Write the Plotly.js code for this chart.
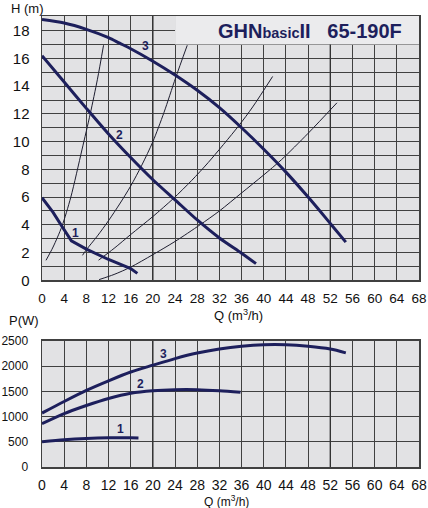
<!DOCTYPE html>
<html><head><meta charset="utf-8">
<script src="https://cdn.plot.ly/plotly-3.0.1.min.js"></script>
<style>html,body{margin:0;padding:0;background:#fff}#chart{width:428px;height:508px}</style>
</head><body><div id="chart"></div>
<script>
// ---- Data ----
const qTicks = [0,4,8,12,16,20,24,28,32,36,40,44,48,52,56,60,64,68];
const hTicks = [0,2,4,6,8,10,12,14,16,18];
const hMinor = [1,3,5,7,9,11,13,15,17];
const pTicks = [0,500,1000,1500,2000,2500];

// Head curves H(Q), speeds 1..3
const h1Q = [0,2,3.5,5.3,8,12,16,17.2];
const h1H = [5.95,4.9,3.95,2.85,2.25,1.5,0.85,0.5];
const h2Q = [0,4,8,12,16,20,24,28,32,36,38.6];
const h2H = [16.2,14.3,12.4,10.55,8.85,7.25,5.8,4.35,3.05,1.95,1.2];
const h3Q = [0,4,8,12,14,16,20,24,28,32,36,40,44,48,52,54.8];
const h3H = [18.8,18.55,18.1,17.5,17.1,16.7,15.8,14.8,13.7,12.45,11.0,9.45,7.8,6.0,4.1,2.75];

// System curves (thin)
const sAQ = [0.72,2,3.6,5.2,7.2,8.7,10,11.1];
const sAH = [1.44,2.4,3.9,6.0,9.4,12.0,14.5,16.95];
const sBQ = [7.3,8,10,12,14,16,18,20,22,24.1,26.2];
const sBH = [1.8,2.2,3.2,4.3,5.5,6.8,8.3,10.0,12.1,14.6,16.95];
const sCQ = [10.2,13,16,20,23.7,27,30,35.4,38,41.6];
const sCH = [1.45,2.3,3.3,4.6,5.9,7.2,8.5,11.1,12.5,14.7];
const sDQ = [10.3,13,16,20,24,28.5,32,36,40,43.2,48,53.2];
const sDH = [0.05,0.42,0.95,1.85,2.8,4.0,5.0,6.3,7.6,8.7,10.6,12.8];

// Power curves P(Q)
const p1Q = [0,4,8,12,16,17.4];
const p1P = [500,540,565,578,578,575];
const p2Q = [0,4,8,12,16,20,24,28,32,35.8];
const p2P = [860,1060,1220,1360,1465,1515,1535,1535,1515,1485];
const p3Q = [0,4,8,12,16,20,24,28,32,36,40,44,48,52,54.8];
const p3P = [1070,1300,1520,1710,1885,2020,2150,2260,2340,2395,2425,2425,2395,2340,2265];

const curveLabels = ['1','2','3'];
const chartTitle = "<b>GHN<span style='font-size:14.5px'>basic</span>II&nbsp;&nbsp;&nbsp;65-190F</b>";
const strongQ = [20,52];

// ---- Styles ----
const NAVY = '#1d1f5c';
const GRID = '#404040';
const FONT = 'Liberation Sans, Arial, sans-serif';

function thick(x, y, xa, ya){ return {x:x, y:y, xaxis:xa, yaxis:ya, mode:'lines', line:{color:NAVY, width:3, shape:'spline', smoothing:0.8}, hoverinfo:'skip', showlegend:false}; }
function thin(x, y){ return {x:x, y:y, xaxis:'x', yaxis:'y', mode:'lines', line:{color:'#1e1e30', width:1, shape:'spline', smoothing:0.8}, hoverinfo:'skip', showlegend:false}; }

const data = [
  thin(sAQ,sAH), thin(sBQ,sBH), thin(sCQ,sCH), thin(sDQ,sDH),
  {x:h1Q, y:h1H, xaxis:'x', yaxis:'y', mode:'lines', line:{color:NAVY,width:3}, hoverinfo:'skip', showlegend:false},
  thick(h2Q,h2H,'x','y'), thick(h3Q,h3H,'x','y'),
  thick(p1Q,p1P,'x2','y2'), thick(p2Q,p2P,'x2','y2'), thick(p3Q,p3P,'x2','y2')
];

const xBase = {
  range:[0,68], tickvals:qTicks, ticktext:qTicks.map(String),
  showgrid:true, gridcolor:GRID, gridwidth:1,
  showline:true, linecolor:GRID, linewidth:1.5, mirror:true,
  ticks:'outside', ticklen:5, tickcolor:'rgba(0,0,0,0)',
  tickfont:{family:FONT, size:13.5, color:'#111'}, zeroline:false, fixedrange:true
};

const shapes = [
  {type:'rect', xref:'x', yref:'y', x0:24, x1:68, y0:17, y1:19.06, fillcolor:'#ebebed', line:{width:0}, layer:'between'}
];
strongQ.forEach(function(q){
  shapes.push({type:'line', xref:'x', yref:'y', x0:q, x1:q, y0:0, y1:(q>24?17:19.06), line:{color:'#333', width:1.3}, layer:'between'});
  shapes.push({type:'line', xref:'x2', yref:'y2', x0:q, x1:q, y0:0, y1:2500, line:{color:'#333', width:1.3}, layer:'between'});
});

const layout = {
  width:428, height:508,
  margin:{l:42, r:9, t:16, b:41},
  paper_bgcolor:'#ffffff', plot_bgcolor:'#e2e2e4',
  font:{family:FONT, color:'#111'},
  xaxis: Object.assign({}, xBase, {anchor:'y'}),
  yaxis: {
    domain:[0.414,1], range:[0,19.06], anchor:'x',
    tickvals:hTicks, ticktext:hTicks.map(String),
    showgrid:true, gridcolor:GRID, gridwidth:1,
    minor:{tickvals:hMinor, showgrid:true, gridcolor:GRID, gridwidth:1, ticks:''},
    showline:true, linecolor:GRID, linewidth:1.5, mirror:true,
    ticks:'outside', ticklen:8, tickcolor:'rgba(0,0,0,0)',
    tickfont:{family:FONT, size:15, color:'#111'}, zeroline:false, fixedrange:true
  },
  xaxis2: Object.assign({}, xBase, {anchor:'y2', tickfont:{family:FONT, size:14, color:'#111'}}),
  yaxis2: {
    domain:[0,0.2794], range:[0,2500], anchor:'x2',
    tickvals:pTicks, ticktext:pTicks.map(String),
    showgrid:true, gridcolor:GRID, gridwidth:1,
    showline:true, linecolor:GRID, linewidth:1.5, mirror:true,
    ticks:'outside', ticklen:10, tickcolor:'rgba(0,0,0,0)',
    tickfont:{family:FONT, size:12, color:'#111'}, zeroline:false, fixedrange:true
  },
  shapes:shapes,
  annotations:[
    {text:chartTitle, xref:'x', yref:'y', x:48.3, y:17.95, showarrow:false, font:{family:FONT, size:20, color:'#1d1f5c'}},
    {text:'H (m)', xref:'paper', yref:'paper', x:-0.088, y:1.0177, xanchor:'left', yanchor:'middle', showarrow:false, font:{family:FONT, size:13, color:'#111'}},
    {text:'Q (m<sup>3</sup>/h)', xref:'paper', yref:'paper', x:0.52, y:0.338, xanchor:'center', yanchor:'middle', showarrow:false, font:{family:FONT, size:13, color:'#111'}},
    {text:'P(W)', xref:'paper', yref:'paper', x:-0.092, y:0.325, xanchor:'left', yanchor:'middle', showarrow:false, font:{family:FONT, size:13, color:'#111'}},
    {text:'Q (m<sup>3</sup>/h)', xref:'paper', yref:'paper', x:0.49, y:-0.075, xanchor:'center', yanchor:'middle', showarrow:false, font:{family:FONT, size:12, color:'#111'}},
    {text:'<b>'+curveLabels[0]+'</b>', xref:'x', yref:'y', x:6.0, y:3.4, showarrow:false, font:{family:FONT, size:12, color:NAVY}},
    {text:'<b>'+curveLabels[1]+'</b>', xref:'x', yref:'y', x:14.0, y:10.5, showarrow:false, font:{family:FONT, size:12, color:NAVY}},
    {text:'<b>'+curveLabels[2]+'</b>', xref:'x', yref:'y', x:18.7, y:16.9, showarrow:false, font:{family:FONT, size:12, color:NAVY}},
    {text:'<b>'+curveLabels[0]+'</b>', xref:'x2', yref:'y2', x:14.1, y:745, showarrow:false, font:{family:FONT, size:12, color:NAVY}},
    {text:'<b>'+curveLabels[1]+'</b>', xref:'x2', yref:'y2', x:17.7, y:1640, showarrow:false, font:{family:FONT, size:12, color:NAVY}},
    {text:'<b>'+curveLabels[2]+'</b>', xref:'x2', yref:'y2', x:21.9, y:2245, showarrow:false, font:{family:FONT, size:12, color:NAVY}}
  ]
};

Plotly.newPlot('chart', data, layout, {displayModeBar:false, staticPlot:true});
</script>
</body></html>
